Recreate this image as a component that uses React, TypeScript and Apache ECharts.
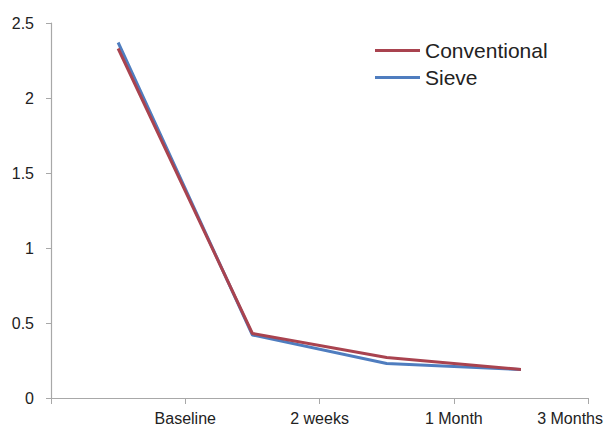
import React, { useEffect, useRef } from "react";
import * as echarts from "echarts";

const categories = ["Baseline", "2 weeks", "1 Month", "3 Months"];
const conventional = [2.33, 0.43, 0.27, 0.19];
const sieve = [2.37, 0.42, 0.23, 0.19];
const yTicks = { min: 0, max: 2.5, interval: 0.5 };

export default function App() {
  const ref = useRef<HTMLDivElement>(null);
  useEffect(() => {
    if (!ref.current) return;
    const chart = echarts.init(ref.current, null, { renderer: "svg" });
    const font = "'Liberation Sans', Arial, sans-serif";
    const axisColor = "#a8a8a8";
    const labelAxisData = [
      "",
      ...categories.map((c, i) =>
        i === categories.length - 1
          ? { value: c, textStyle: { padding: [0, 36, 0, 0] } }
          : c
      ),
    ];
    chart.setOption({
      animation: false,
      backgroundColor: "#ffffff",
      grid: { left: 51, right: 17, top: 23, bottom: 27, containLabel: false },
      legend: {
        orient: "vertical",
        left: 370,
        top: 34,
        icon: "rect",
        itemWidth: 45,
        itemHeight: 3,
        itemGap: 4,
        textStyle: { fontFamily: font, fontSize: 21, color: "#222", lineHeight: 23 },
        data: ["Conventional", "Sieve"],
      },
      xAxis: [
        {
          type: "category",
          data: categories,
          boundaryGap: true,
          show: false,
        },
        {
          type: "category",
          data: labelAxisData,
          boundaryGap: false,
          position: "bottom",
          axisLine: { show: true, lineStyle: { color: axisColor, width: 1.2 } },
          axisTick: { show: true, length: 6, lineStyle: { color: axisColor }, interval: 0 },
          axisLabel: {
            interval: 0,
            margin: 12,
            fontFamily: font,
            fontSize: 16,
            color: "#222",
          },
          splitLine: { show: false },
        },
      ],
      yAxis: {
        type: "value",
        min: yTicks.min,
        max: yTicks.max,
        interval: yTicks.interval,
        axisLine: { show: true, lineStyle: { color: axisColor, width: 1.2 } },
        axisTick: { show: true, length: 5, lineStyle: { color: axisColor } },
        axisLabel: {
          margin: 17,
          fontFamily: font,
          fontSize: 16,
          color: "#222",
        },
        splitLine: { show: false },
      },
      series: [
        {
          name: "Sieve",
          type: "line",
          xAxisIndex: 0,
          data: sieve,
          symbol: "none",
          lineStyle: { color: "#4f7dbf", width: 3 },
          itemStyle: { color: "#4f7dbf" },
        },
        {
          name: "Conventional",
          type: "line",
          xAxisIndex: 0,
          data: conventional,
          symbol: "none",
          lineStyle: { color: "#a9434f", width: 3 },
          itemStyle: { color: "#a9434f" },
        },
      ],
    });
    return () => chart.dispose();
  }, []);
  return (
    <div
      ref={ref}
      style={{ position: "fixed", left: 0, top: 0, width: 606, height: 426 }}
    />
  );
}
